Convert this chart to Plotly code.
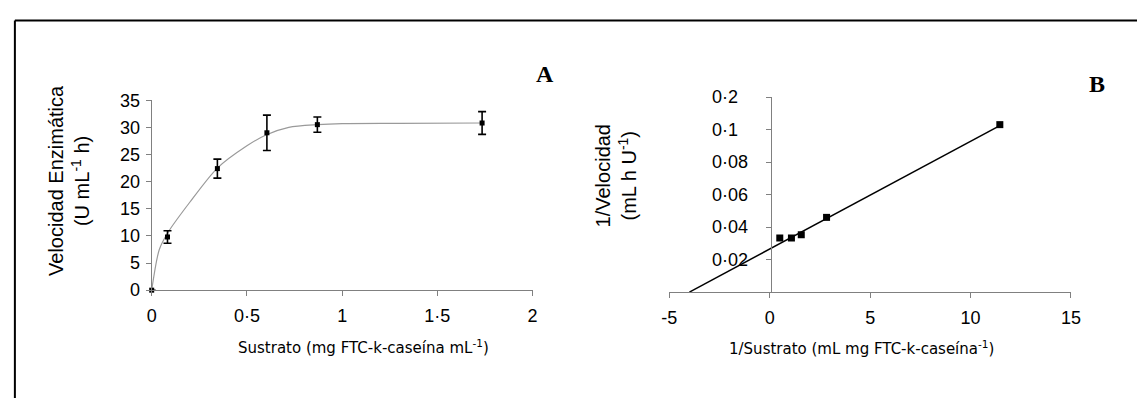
import plotly.graph_objects as go

W, H = 1137, 398

# ---- Panel A data (Michaelis-Menten) ----
sustrato = [0.0, 0.083, 0.345, 0.605, 0.87, 1.735]
velocidad = [0.0, 9.8, 22.4, 29.0, 30.5, 30.8]
velocidad_err = [0.0, 1.15, 1.75, 3.25, 1.4, 2.1]

curve_x = [0.0, 0.04, 0.083, 0.2, 0.345, 0.5, 0.6, 0.72, 0.87, 1.0, 1.3, 1.735]
curve_y = [0.0, 7.5, 10.5, 16.2, 22.5, 26.6, 28.6, 30.0, 30.5, 30.7, 30.75, 30.8]

a_xticks = [0, 0.5, 1, 1.5, 2]
a_xticktext = ["0", "0·5", "1", "1·5", "2"]
a_yticks = [0, 5, 10, 15, 20, 25, 30, 35]

# ---- Panel B data (Lineweaver-Burk) ----
inv_s = [0.5, 1.08, 1.57, 2.83, 11.46]
inv_v = [0.0333, 0.0333, 0.0353, 0.046, 0.1031]
fit_x = [-4.0, 11.46]
fit_y = [0.0, 0.1025]

b_xticks = [-5, 0, 5, 10, 15]
b_xticktext = ["-5", "0", "5", "10", "15"]
b_yticks = [0.02, 0.04, 0.06, 0.08, 0.1, 0.12]
b_yticktext = ["0·02", "0·04", "0·06", "0·08", "0·1\u2007", "0·2\u2007"]

AX = "#808080"
TICKFONT = dict(family="Liberation Sans, Arial", size=18, color="black")


def px(x):
    return x / W


def py(y):
    return 1 - y / H


fig = go.Figure()

fig.add_trace(go.Scatter(x=curve_x, y=curve_y, mode="lines",
                         line=dict(color="#9a9a9a", width=1.2, shape="spline", smoothing=0.8),
                         xaxis="x", yaxis="y", hoverinfo="skip", cliponaxis=False))
fig.add_trace(go.Scatter(x=sustrato, y=velocidad, mode="markers",
                         marker=dict(symbol="square", size=5, color="black"),
                         error_y=dict(type="data", array=velocidad_err, visible=True,
                                      color="black", thickness=1.6, width=4),
                         xaxis="x", yaxis="y", cliponaxis=False))

fig.add_trace(go.Scatter(x=fit_x, y=fit_y, mode="lines",
                         line=dict(color="black", width=1.5),
                         xaxis="x2", yaxis="y2", cliponaxis=False))
fig.add_trace(go.Scatter(x=inv_s, y=inv_v, mode="markers",
                         marker=dict(symbol="square", size=7, color="black"),
                         xaxis="x2", yaxis="y2", cliponaxis=False))

common = dict(showgrid=False, zeroline=False, showline=True, linecolor=AX, linewidth=1,
              ticks="outside", ticklen=5, tickcolor=AX, tickwidth=1, tickfont=TICKFONT)

fig.update_layout(
    width=W, height=H, margin=dict(l=0, r=0, t=0, b=0),
    paper_bgcolor="white", plot_bgcolor="white", showlegend=False,
    xaxis=dict(domain=[px(146), px(533)], range=[0, 2], anchor="y",
               tickvals=a_xticks, ticktext=a_xticktext, ticklabelstandoff=4, **common),
    yaxis=dict(domain=[py(295), py(95)], range=[0, 35], anchor="x",
               tickvals=a_yticks, ticklabelstandoff=2, **common),
    xaxis2=dict(domain=[px(672), px(1080)], range=[-5, 15], anchor="y2",
                tickvals=b_xticks, ticktext=b_xticktext, ticklabelstandoff=4, **common),
    yaxis2=dict(domain=[py(297), py(91.8)], range=[0, 0.12], anchor="free",
                position=px(775), tickvals=b_yticks, ticktext=b_yticktext,
                ticklabelstandoff=14, **common),
)

fig.add_shape(type="line", xref="paper", yref="paper", x0=px(7), y0=py(11), x1=1.05, y1=py(11),
              line=dict(color="black", width=2))
fig.add_shape(type="line", xref="paper", yref="paper", x0=px(7), y0=py(11), x1=px(7), y1=-0.05,
              line=dict(color="black", width=2))

title_font_y = dict(family="Liberation Sans, Arial", size=20, color="black")
title_font_x = dict(family="DejaVu Sans, Verdana", size=15, color="black")
label_font = dict(family="Liberation Serif, Times New Roman", size=24, color="black")

annotations = [
    dict(x=px(62), y=py(180), text="Velocidad Enzimática<br>(U mL<sup>-1</sup> h)",
         textangle=-90, font=title_font_y),
    dict(x=px(618), y=py(175), text="1/Velocidad<br>(mL h U<sup>-1</sup>)",
         textangle=-90, font=title_font_y),
    dict(x=px(361), y=py(355), text="Sustrato (mg FTC-k-caseína mL<sup>-1</sup>)",
         font=title_font_x),
    dict(x=px(867), y=py(356), text="1/Sustrato (mL mg FTC-k-caseína<sup>-1</sup>)",
         font=title_font_x),
    dict(x=px(546), y=py(67), text="<b>A</b>", font=label_font),
    dict(x=px(1107), y=py(78), text="<b>B</b>", font=label_font),
]
for a in annotations:
    fig.add_annotation(xref="paper", yref="paper", showarrow=False,
                       xanchor="center", yanchor="middle", **a)

fig.write_html(
    "out.html",
    config={"displayModeBar": False},
    post_script=(
        "document.documentElement.style.margin='0';"
        "document.documentElement.style.overflow='hidden';"
        "document.body.style.margin='0';"
        "document.body.style.overflow='hidden';"
    ),
)
